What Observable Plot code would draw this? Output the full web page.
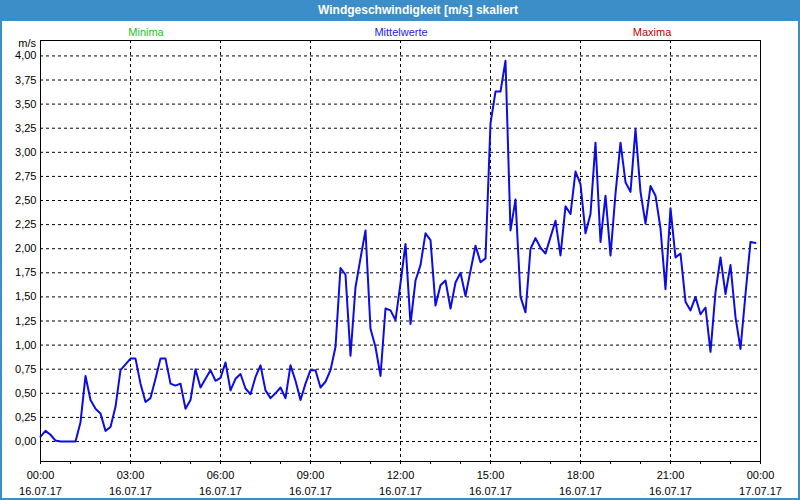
<!DOCTYPE html>
<html>
<head>
<meta charset="utf-8">
<script src="https://cdn.jsdelivr.net/npm/d3@7"></script>
<script src="https://cdn.jsdelivr.net/npm/@observablehq/plot@0.6"></script>
<style>
  html, body { margin: 0; padding: 0; background: #fff; }
  #win { position: relative; width: 800px; height: 500px; overflow: hidden; background: #fff;
         font-family: "Liberation Sans", Arial, sans-serif; }
  #titlebar { position: absolute; left: 0; top: 0; width: 800px; height: 21px; background: #3b8ec7; }
  #title { position: absolute; left: 418px; top: 10px; transform: translate(-50%, -50%);
           color: #fff; font-weight: bold; font-size: 12px; white-space: nowrap; }
  .bl { position: absolute; top: 21px; width: 2px; height: 479px; background: #3b8ec7; }
  #bb { position: absolute; left: 0; top: 498px; width: 800px; height: 2px; background: #3b8ec7; }
  .leg { position: absolute; top: 31.5px; transform: translate(-50%, -50%); font-size: 11px; white-space: nowrap; }
  #unit { position: absolute; right: 764px; top: 38px; line-height: 10px; font-size: 11px; color: #000; }
  #chart { position: absolute; left: 0; top: 21px; }
</style>
</head>
<body>
<div id="win">
  <div id="chart"></div>
  <div id="titlebar"><span id="title">Windgeschwindigkeit [m/s] skaliert</span></div>
  <div class="bl" style="left:0"></div>
  <div class="bl" style="left:798px"></div>
  <div id="bb"></div>
  <span class="leg" style="left:146px;color:#22c322">Minima</span>
  <span class="leg" style="left:401px;color:#1c1cf0">Mittelwerte</span>
  <span class="leg" style="left:652px;color:#c00000">Maxima</span>
  <span id="unit">m/s</span>
</div>
<script>
// measurement times (minutes after 16.07.17 00:00), 10-minute means
const minutes = [
  0,10,20,30,40,50,60,70,80,90,
  100,110,120,130,140,150,160,170,180,190,
  200,210,220,230,240,250,260,270,280,290,
  300,310,320,330,340,350,360,370,380,390,
  400,410,420,430,440,450,460,470,480,490,
  500,510,520,530,540,550,560,570,580,590,
  600,610,620,630,640,650,660,670,680,690,
  700,710,720,730,740,750,760,770,780,790,
  800,810,820,830,840,850,860,870,880,890,
  900,910,920,930,940,950,960,970,980,990,
  1000,1010,1020,1030,1040,1050,1060,1070,1080,1090,
  1100,1110,1120,1130,1140,1150,1160,1170,1180,1190,
  1200,1210,1220,1230,1240,1250,1260,1270,1280,1290,
  1300,1310,1320,1330,1340,1350,1360,1370,1380,1390,
  1400,1410,1420,1430
];
// Mittelwerte wind speed [m/s]
const speeds = [
  0.05,0.11,0.07,0.01,0.00,0.00,0.00,0.00,0.20,0.68,
  0.43,0.34,0.29,0.11,0.15,0.36,0.74,0.80,0.86,0.86,
  0.60,0.41,0.45,0.65,0.86,0.86,0.60,0.58,0.60,0.34,
  0.43,0.75,0.56,0.65,0.74,0.63,0.66,0.82,0.53,0.65,
  0.70,0.55,0.49,0.67,0.79,0.53,0.45,0.50,0.56,0.45,
  0.79,0.63,0.43,0.60,0.74,0.74,0.56,0.62,0.74,0.98,
  1.80,1.73,0.89,1.60,1.90,2.19,1.17,0.98,0.68,1.38,
  1.36,1.26,1.64,2.05,1.22,1.67,1.83,2.16,2.09,1.41,
  1.62,1.67,1.38,1.65,1.75,1.51,1.77,2.03,1.86,1.90,
  3.30,3.63,3.63,3.95,2.19,2.51,1.50,1.34,2.00,2.11,
  2.01,1.95,2.12,2.29,1.93,2.44,2.36,2.80,2.67,2.16,
  2.36,3.10,2.07,2.55,1.93,2.57,3.10,2.69,2.59,3.24,
  2.59,2.26,2.65,2.55,2.21,1.58,2.42,1.91,1.95,1.45,
  1.36,1.50,1.32,1.39,0.93,1.55,1.91,1.53,1.83,1.29,
  0.96,1.53,2.07,2.06
];
const tickMinutes = [0,180,360,540,720,900,1080,1260,1440];
const timeLabels = ["00:00","03:00","06:00","09:00","12:00","15:00","18:00","21:00","00:00"];
const dateLabels = ["16.07.17","16.07.17","16.07.17","16.07.17","16.07.17","16.07.17","16.07.17","16.07.17","17.07.17"];
const hourTicks = [0,60,120,180,240,300,360,420,480,540,600,660,720,780,840,900,960,1020,1080,1140,1200,1260,1320,1380,1440];
const yTicks = [0,0.25,0.5,0.75,1,1.25,1.5,1.75,2,2.25,2.5,2.75,3,3.25,3.5,3.75,4];

const data = minutes.map((t, i) => ({t, v: speeds[i]}));

const chart = Plot.plot({
  width: 800,
  height: 477,
  marginLeft: 40,
  marginRight: 40,
  marginTop: 19,
  marginBottom: 37,
  style: {fontFamily: "Liberation Sans, Arial, sans-serif", fontSize: "11px", color: "#000", background: "transparent"},
  x: {domain: [0, 1440]},
  y: {domain: [-0.2075, 4.16]},
  marks: [
    Plot.ruleY(yTicks, {stroke: "#000", strokeDasharray: "3,3"}),
    Plot.ruleX(tickMinutes.slice(1, -1), {stroke: "#000", strokeDasharray: "3,3"}),
    Plot.line(data, {x: "t", y: "v", stroke: "#0c0ce6", strokeWidth: 2}),
    Plot.frame({stroke: "#000"}),
    Plot.axisY({ticks: yTicks, tickSize: 0, tickPadding: 4, label: null,
                tickFormat: d => d.toFixed(2).replace(".", ",")}),
    Plot.axisX({ticks: hourTicks, tickSize: 3, label: null, tickFormat: () => ""}),
    Plot.axisX({ticks: tickMinutes, tickSize: 0, tickPadding: 10, label: null,
                tickFormat: d => timeLabels[tickMinutes.indexOf(d)]}),
    Plot.axisX({ticks: tickMinutes, tickSize: 0, tickPadding: 26, label: null,
                tickFormat: d => dateLabels[tickMinutes.indexOf(d)]})
  ]
});
document.getElementById("chart").appendChild(chart);
</script>
</body>
</html>
